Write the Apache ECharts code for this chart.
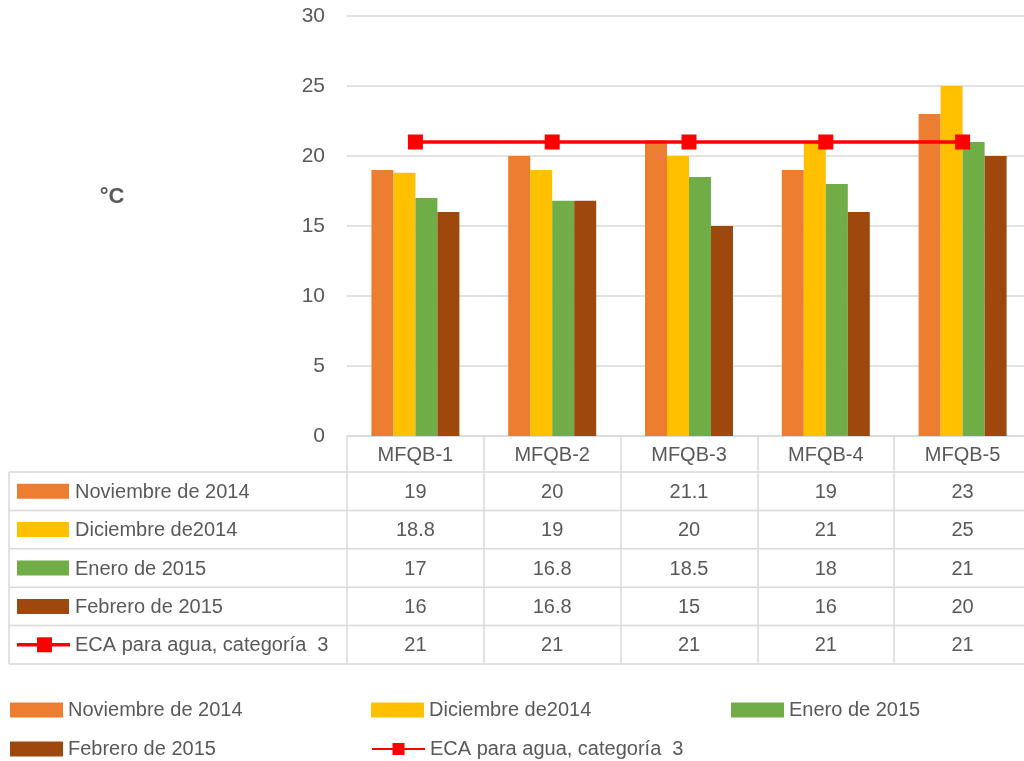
<!DOCTYPE html>
<html><head><meta charset="utf-8">
<script src="https://cdn.jsdelivr.net/npm/echarts@6/dist/echarts.min.js"></script>
<style>html,body{margin:0;padding:0;background:#fff}#c{width:1024px;height:761px}</style>
</head><body><div id="c"></div>
<script>
const categories = ['MFQB-1', 'MFQB-2', 'MFQB-3', 'MFQB-4', 'MFQB-5'];
const seriesNames = ['Noviembre de 2014', 'Diciembre de2014', 'Enero de 2015', 'Febrero de 2015', 'ECA para agua, categoría  3'];
const noviembre = [19, 20, 21.1, 19, 23];
const diciembre = [18.8, 19, 20, 21, 25];
const enero = [17, 16.8, 18.5, 18, 21];
const febrero = [16, 16.8, 15, 16, 20];
const eca = [21, 21, 21, 21, 21];
const seriesData = [noviembre, diciembre, enero, febrero, eca];
const colors = ['#ED7D31', '#FFC000', '#70AD47', '#9E480E', '#FF0000'];
const unitLabel = '°C';

const FONT = '"Liberation Sans", Arial, sans-serif';
const TXT = '#595959';
const GRID = '#d9d9d9';

const chart = echarts.init(document.getElementById('c'), null, {renderer: 'canvas'});

const series = [];
for (let i = 0; i < 4; i++) {
  series.push({
    name: seriesNames[i], type: 'bar', data: seriesData[i],
    barWidth: 22, barGap: '0%',
    itemStyle: {color: colors[i]}
  });
}
series.push({
  name: seriesNames[4], type: 'line', data: eca,
  symbol: 'rect', symbolSize: 15,
  lineStyle: {color: colors[4], width: 3.5},
  itemStyle: {color: colors[4]}
});

const legendPos = [[10, 700], [371, 700], [731, 700], [10, 739], [371, 739]];
const legends = seriesNames.map((n, i) => ({
  data: [i < 4 ? {name: n, icon: 'rect'} : {name: n}],
  left: legendPos[i][0], top: legendPos[i][1],
  padding: 0, itemWidth: 53, itemHeight: 15, itemGap: 0,
  textStyle: {fontFamily: FONT, fontSize: 20, color: TXT},
  selectedMode: false
}));

const option = {
  animation: false,
  backgroundColor: '#fff',
  grid: {left: 347, right: -7, top: 16, bottom: 325, containLabel: false, outerBoundsMode: 'none'},
  legend: legends,
  xAxis: {
    type: 'category', data: categories,
    axisLine: {lineStyle: {color: GRID, width: 1.5}},
    axisTick: {show: true, length: 228, lineStyle: {color: GRID, width: 1.5}},
    axisLabel: {fontFamily: FONT, fontSize: 20, color: TXT, margin: 9}
  },
  yAxis: {
    type: 'value', min: 0, max: 30, interval: 5,
    axisLine: {show: false}, axisTick: {show: false},
    axisLabel: {fontFamily: FONT, fontSize: 21, color: TXT, margin: 22},
    splitLine: {lineStyle: {color: GRID, width: 1.5}}
  },
  series: series
};
chart.setOption(option);

// Data table drawn beneath the axis
const rowTop = 472, rowH = 38.4, tableLeft = 9, tableRight = 1024;
const g = [];
for (let r = 0; r <= seriesNames.length; r++) {
  const y = rowTop + r * rowH;
  g.push({type: 'line', shape: {x1: tableLeft, y1: y, x2: tableRight, y2: y}, style: {stroke: GRID, lineWidth: 1.5}});
}
g.push({type: 'line', shape: {x1: tableLeft, y1: rowTop, x2: tableLeft, y2: rowTop + rowH * seriesNames.length}, style: {stroke: GRID, lineWidth: 1.5}});
seriesNames.forEach((n, r) => {
  const cy = rowTop + r * rowH + rowH / 2;
  if (r < 4) {
    g.push({type: 'rect', shape: {x: 17, y: cy - 7.5, width: 52, height: 15}, style: {fill: colors[r]}});
  } else {
    g.push({type: 'line', shape: {x1: 17, y1: cy, x2: 70, y2: cy}, style: {stroke: colors[r], lineWidth: 3.5}});
    g.push({type: 'rect', shape: {x: 37, y: cy - 7.5, width: 15, height: 15}, style: {fill: colors[r]}});
  }
  g.push({type: 'text', x: 75, y: cy + 1, style: {text: n, font: '20px ' + FONT, fill: TXT, verticalAlign: 'middle', textAlign: 'left'}});
  categories.forEach((c, i) => {
    const x = chart.convertToPixel({xAxisIndex: 0}, c);
    g.push({type: 'text', x: x, y: cy + 1, style: {text: String(seriesData[r][i]), font: '20px ' + FONT, fill: TXT, verticalAlign: 'middle', textAlign: 'center'}});
  });
});
g.push({type: 'text', x: 112, y: 197, style: {text: unitLabel, font: 'bold 22px ' + FONT, fill: TXT, verticalAlign: 'middle', textAlign: 'center'}});
chart.setOption({graphic: g});
</script></body></html>
